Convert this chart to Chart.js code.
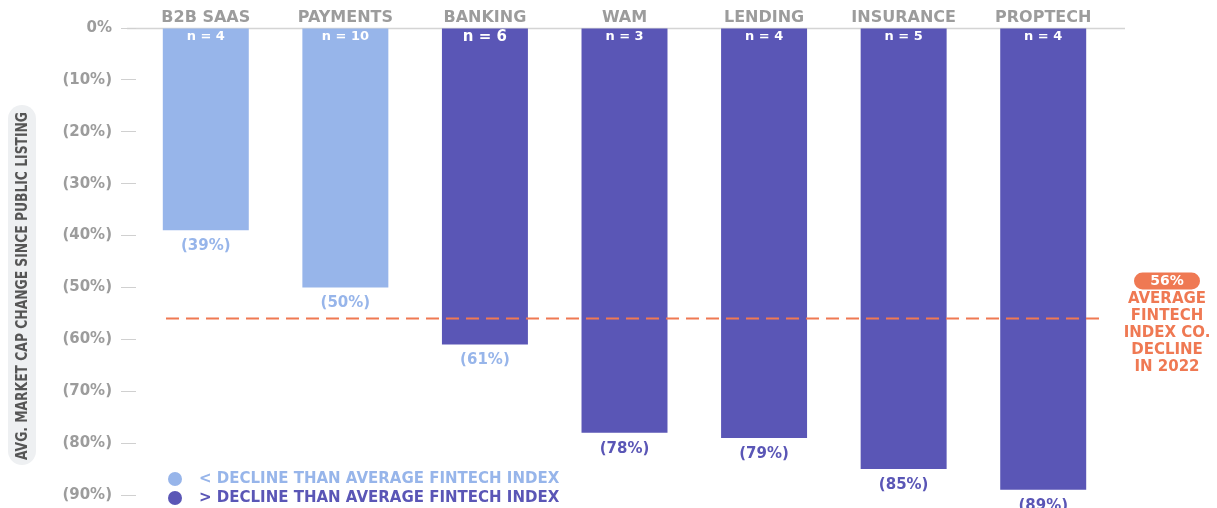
<!DOCTYPE html>
<html>
<head>
<meta charset="utf-8">
<script src="https://cdn.jsdelivr.net/npm/chart.js@4.4.1/dist/chart.umd.min.js"></script>
<style>
    html, body { margin: 0; padding: 0; background: #fff; }
    #wrap { width: 1217px; height: 508px; position: relative; }
</style>
</head>
<body>
<div id="wrap"><canvas id="myChart"></canvas></div>
<script>
// data
const categories = ['B2B SAAS', 'PAYMENTS', 'BANKING', 'WAM', 'LENDING', 'INSURANCE', 'PROPTECH'];
const capChange = [-39, -50, -61, -78, -79, -85, -89];
const companyCounts = [4, 10, 6, 3, 4, 5, 4];
const lessThanIndex = [true, true, false, false, false, false, false];
const indexAverage = -56;
const yMin = -90;
const yMax = 0;
const yStep = 10;
const legendItems = ['< DECLINE THAN AVERAGE FINTECH INDEX', '> DECLINE THAN AVERAGE FINTECH INDEX'];
const noteLines = ['AVERAGE', 'FINTECH', 'INDEX CO.', 'DECLINE', 'IN 2022'];

// styles
const LIGHT = '#97b5ea';
const DARK = '#5a56b6';
const ORANGE = '#ef7953';
const GREY = '#9c9c9c';
const FONT = '"DejaVu Sans", sans-serif';
const valueLabelColors = [LIGHT, LIGHT, LIGHT, DARK, DARK, DARK, DARK];
const countLabelSizes = [13, 13, 15, 13, 13, 13, 13];

function pctLabel(v) {
    return v === 0 ? '0%' : '(' + Math.abs(v) + '%)';
}

const overlay = {
    id: 'overlay',
    beforeDraw(chart) {
        const ctx = chart.ctx;
        const y = chart.scales.y;
        const area = chart.chartArea;

        // y axis title in a grey pill, squeezed to a condensed look
        const title = 'AVG. MARKET CAP CHANGE SINCE PUBLIC LISTING';
        ctx.save();
        ctx.fillStyle = '#eef0f2';
        ctx.beginPath();
        ctx.roundRect(8, 105, 28, 360, 14);
        ctx.fill();
        ctx.translate(23, 286);
        ctx.rotate(-Math.PI / 2);
        ctx.font = 'bold 16px "DejaVu Sans Condensed", "DejaVu Sans", sans-serif';
        const w = ctx.measureText(title).width;
        ctx.scale(348 / w, 1);
        ctx.fillStyle = '#555';
        ctx.textAlign = 'center';
        ctx.textBaseline = 'middle';
        ctx.fillText(title, 0, 0);
        ctx.restore();

        // zero line
        const y0 = Math.round(y.getPixelForValue(0)) + 0.5;
        ctx.save();
        ctx.strokeStyle = '#d4d4d4';
        ctx.lineWidth = 1.5;
        ctx.beginPath();
        ctx.moveTo(area.left - 9, y0);
        ctx.lineTo(area.right + 12, y0);
        ctx.stroke();
        ctx.restore();
    },
    afterDatasetsDraw(chart) {
        const ctx = chart.ctx;
        const y = chart.scales.y;
        const area = chart.chartArea;
        const meta = chart.getDatasetMeta(0);

        ctx.save();
        ctx.textAlign = 'center';
        ctx.textBaseline = 'middle';
        meta.data.forEach((bar, i) => {
            ctx.fillStyle = '#fff';
            ctx.font = 'bold ' + countLabelSizes[i] + 'px ' + FONT;
            ctx.fillText('n = ' + companyCounts[i], bar.x, area.top + 9);
            ctx.fillStyle = valueLabelColors[i];
            ctx.font = 'bold 15px ' + FONT;
            ctx.fillText(pctLabel(capChange[i]), bar.x, bar.y + 16);
        });
        ctx.restore();

        // average fintech index line
        const ya = y.getPixelForValue(indexAverage);
        ctx.save();
        ctx.strokeStyle = ORANGE;
        ctx.lineWidth = 2;
        ctx.setLineDash([13, 7]);
        ctx.beginPath();
        ctx.moveTo(166, ya);
        ctx.lineTo(1100, ya);
        ctx.stroke();
        ctx.restore();

        // note on the right
        ctx.save();
        const cx = 1167;
        ctx.fillStyle = ORANGE;
        ctx.beginPath();
        ctx.roundRect(cx - 33, ya - 46, 66, 17, 8.5);
        ctx.fill();
        ctx.textAlign = 'center';
        ctx.textBaseline = 'middle';
        ctx.fillStyle = '#fff';
        ctx.font = 'bold 14px ' + FONT;
        ctx.fillText(Math.abs(indexAverage) + '%', cx, ya - 37);
        ctx.fillStyle = ORANGE;
        ctx.font = 'bold 15px ' + FONT;
        noteLines.forEach((t, i) => ctx.fillText(t, cx, ya - 19 + i * 16.8));
        ctx.restore();

        // legend
        ctx.save();
        ctx.font = 'bold 15px ' + FONT;
        ctx.textBaseline = 'middle';
        [LIGHT, DARK].forEach((c, i) => {
            const ly = 479 + i * 19;
            ctx.fillStyle = c;
            ctx.beginPath();
            ctx.arc(175, ly, 7, 0, Math.PI * 2);
            ctx.fill();
            ctx.fillText(legendItems[i], 199, ly);
        });
        ctx.restore();
    }
};

const ctx = document.getElementById('myChart').getContext('2d');

new Chart(ctx, {
    type: 'bar',
    data: {
        labels: categories,
        datasets: [{
            data: capChange,
            backgroundColor: lessThanIndex.map(l => l ? LIGHT : DARK),
            borderWidth: 0,
            categoryPercentage: 1,
            barPercentage: 0.616
        }]
    },
    options: {
        responsive: true,
        maintainAspectRatio: false,
        animation: false,
        layout: {
            padding: { left: 0, right: 104, top: 0, bottom: 13 }
        },
        plugins: {
            legend: { display: false },
            tooltip: { enabled: false }
        },
        scales: {
            x: {
                position: 'top',
                grid: { display: false },
                border: { display: false },
                ticks: {
                    color: GREY,
                    padding: -7,
                    font: { family: FONT, size: 16, weight: 'bold' }
                },
                afterFit(scale) { scale.height = 28; }
            },
            y: {
                min: yMin,
                max: yMax,
                grid: {
                    drawOnChartArea: false,
                    drawTicks: true,
                    tickLength: 15,
                    tickColor: '#d0d0d0'
                },
                border: { display: false },
                ticks: {
                    stepSize: yStep,
                    padding: 9,
                    color: GREY,
                    font: { family: FONT, size: 15, weight: 'bold' },
                    callback: function(value) {
                        return pctLabel(value);
                    }
                },
                afterFit(scale) {
                    scale.width = 136;
                    scale.paddingTop = 0;
                    scale.paddingBottom = 0;
                }
            }
        }
    },
    plugins: [overlay]
});
</script>
</body>
</html>
